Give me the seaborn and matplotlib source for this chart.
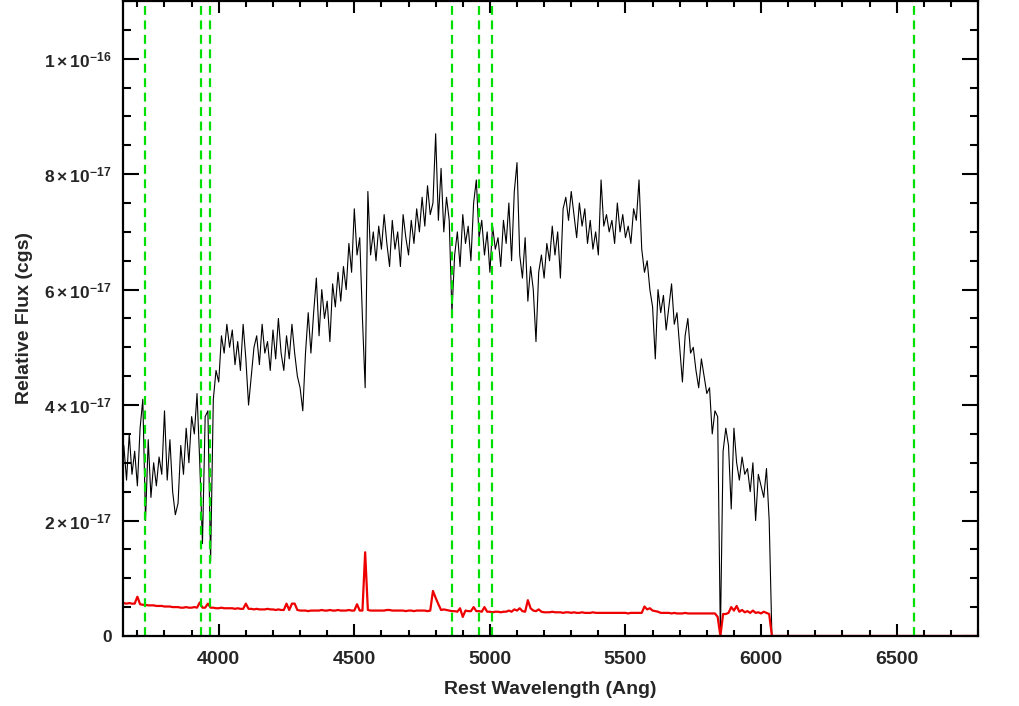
import numpy as np
import pandas as pd
import seaborn as sns
import matplotlib
matplotlib.use('Agg')
import matplotlib.pyplot as plt
from matplotlib.ticker import MultipleLocator, FixedLocator, FixedFormatter

# spectrum sampled every 10 Ang from 3650 to 6030, values in units of 1e-17 cgs
wave_start = 3650
wave_step = 10
flux_1e17 = [
    3.3, 2.7, 3.5, 2.8, 3.2, 2.6, 3.6, 4.1, 2.0, 3.4,
    2.4, 3.0, 2.6, 3.1, 2.8, 3.9, 2.7, 3.4, 2.5, 2.1,
    2.3, 3.3, 2.8, 3.6, 3.0, 3.8, 3.5, 4.2, 3.0, 1.6,
    3.8, 3.9, 1.3, 4.1, 4.6, 4.4, 5.2, 4.9, 5.4, 5.0,
    5.3, 4.7, 5.1, 4.6, 5.4, 4.8, 4.0, 4.5, 5.0, 5.2,
    4.7, 5.4, 4.9, 5.1, 4.6, 5.3, 4.8, 5.5, 4.9, 4.6,
    5.2, 4.8, 5.4, 4.9, 4.5, 4.3, 3.9, 4.9, 5.6, 4.9,
    5.6, 6.2, 5.2, 6.0, 5.5, 5.8, 5.1, 6.1, 5.7, 6.3,
    5.8, 6.4, 6.0, 6.8, 6.3, 7.4, 6.6, 6.9, 5.5, 4.3,
    7.7, 6.6, 7.0, 6.5, 7.1, 6.7, 7.3, 6.8, 6.4, 7.2,
    6.7, 7.0, 6.4, 7.3, 6.9, 6.6, 7.2, 6.8, 7.4, 7.0,
    7.6, 7.1, 7.8, 7.3, 7.5, 8.7, 7.2, 8.1, 7.0, 7.6,
    7.2, 5.6, 6.6, 7.0, 6.4, 7.3, 6.8, 7.1, 6.5, 7.5,
    7.9, 6.9, 7.2, 6.6, 7.0, 6.3, 7.1, 6.7, 6.9, 6.4,
    7.2, 6.8, 7.5, 6.5, 7.7, 8.2, 6.6, 6.2, 6.9, 5.8,
    6.4, 6.0, 5.1, 6.3, 6.6, 6.2, 6.8, 6.5, 7.1, 6.6,
    7.0, 6.2, 7.4, 7.6, 7.2, 7.7, 7.3, 6.9, 7.5, 7.1,
    7.4, 6.8, 7.2, 6.7, 7.0, 6.6, 7.9, 7.1, 7.3, 7.0,
    7.2, 6.8, 7.5, 7.0, 7.3, 6.9, 7.1, 6.8, 7.4, 7.2,
    7.9, 6.7, 6.3, 6.5, 6.0, 5.7, 4.8, 6.0, 5.6, 5.9,
    5.3, 5.7, 6.1, 5.4, 5.6, 5.0, 4.4, 5.2, 5.5, 4.9,
    5.0, 4.6, 4.3, 4.8, 4.5, 4.2, 4.3, 3.5, 3.9, 3.8,
    0.0, 3.2, 3.6, 3.3, 2.2, 3.6, 3.0, 2.7, 3.1, 2.8,
    2.9, 2.5, 3.0, 2.0, 2.8, 2.6, 2.4, 2.9, 2.0,
]
error_1e17 = [
    0.57, 0.56, 0.57, 0.56, 0.56, 0.68, 0.55, 0.54, 0.54, 0.53,
    0.53, 0.53, 0.52, 0.52, 0.52, 0.51, 0.51, 0.51, 0.50, 0.50,
    0.50, 0.49, 0.49, 0.50, 0.49, 0.49, 0.50, 0.49, 0.58, 0.49,
    0.49, 0.56, 0.49, 0.49, 0.48, 0.48, 0.49, 0.48, 0.48, 0.48,
    0.48, 0.47, 0.48, 0.47, 0.47, 0.56, 0.47, 0.47, 0.46, 0.47,
    0.46, 0.46, 0.46, 0.47, 0.46, 0.46, 0.45, 0.46, 0.45, 0.45,
    0.56, 0.45, 0.56, 0.56, 0.45, 0.44, 0.44, 0.44, 0.43, 0.44,
    0.44, 0.44, 0.44, 0.45, 0.44, 0.44, 0.45, 0.44, 0.44, 0.45,
    0.44, 0.44, 0.44, 0.45, 0.44, 0.44, 0.55, 0.44, 0.44, 1.45,
    0.45, 0.44, 0.44, 0.44, 0.44, 0.44, 0.44, 0.45, 0.45, 0.44,
    0.44, 0.44, 0.44, 0.44, 0.43, 0.44, 0.44, 0.43, 0.44, 0.44,
    0.44, 0.44, 0.43, 0.44, 0.78, 0.66, 0.55, 0.45, 0.46, 0.45,
    0.44, 0.43, 0.43, 0.42, 0.48, 0.33, 0.44, 0.43, 0.43, 0.50,
    0.43, 0.43, 0.42, 0.50, 0.42, 0.42, 0.41, 0.42, 0.42, 0.41,
    0.42, 0.42, 0.44, 0.42, 0.46, 0.44, 0.48, 0.43, 0.42, 0.62,
    0.48, 0.44, 0.43, 0.46, 0.42, 0.41, 0.41, 0.41, 0.42, 0.41,
    0.41, 0.41, 0.40, 0.41, 0.41, 0.40, 0.41, 0.40, 0.40, 0.41,
    0.40, 0.40, 0.40, 0.41, 0.40, 0.40, 0.40, 0.40, 0.40, 0.40,
    0.40, 0.40, 0.40, 0.40, 0.40, 0.40, 0.39, 0.40, 0.40, 0.40,
    0.40, 0.40, 0.51, 0.46, 0.48, 0.44, 0.43, 0.42, 0.40, 0.40,
    0.40, 0.40, 0.39, 0.40, 0.39, 0.39, 0.39, 0.40, 0.39, 0.39,
    0.39, 0.39, 0.39, 0.39, 0.39, 0.39, 0.39, 0.39, 0.39, 0.33,
    0.0, 0.38, 0.38, 0.40, 0.50, 0.44, 0.52, 0.42, 0.45, 0.41,
    0.43, 0.40, 0.44, 0.40, 0.41, 0.39, 0.42, 0.40, 0.38,
]
# no data past the red end: both arrays are zero there
tail_wave = [6040, 6800]
tail_flux = [0.0, 0.0]
tail_error = [0.0, 0.0]

# emission / absorption lines marked with green dashes
line_waves = [3727, 3933, 3968, 4861, 4959, 5007, 6563]

ytick_vals = [0, 2e-17, 4e-17, 6e-17, 8e-17, 1e-16]
ytick_labels = ['0', r'$2\times10^{-17}$', r'$4\times10^{-17}$',
                r'$6\times10^{-17}$', r'$8\times10^{-17}$', r'$1\times10^{-16}$']

sns.set_style('ticks')
plt.rcParams['font.family'] = ['Liberation Sans', 'DejaVu Sans']
plt.rcParams['font.weight'] = 'bold'
plt.rcParams['mathtext.fontset'] = 'custom'
plt.rcParams['mathtext.rm'] = 'Liberation Sans:bold'
plt.rcParams['mathtext.it'] = 'Liberation Sans:bold'
plt.rcParams['mathtext.bf'] = 'Liberation Sans:bold'

wave = wave_start + wave_step * np.arange(len(flux_1e17))
df = pd.DataFrame({
    'wave': np.concatenate([wave, tail_wave]),
    'flux': np.concatenate([flux_1e17, tail_flux]) * 1e-17,
    'error': np.concatenate([error_1e17, tail_error]) * 1e-17,
})

fig = plt.figure(figsize=(10.2, 7.06), dpi=100)
ax = fig.add_axes([0.1206, 0.0992, 0.8382, 0.8994])

sns.lineplot(data=df, x='wave', y='flux', ax=ax, color='black', lw=0.8,
             estimator=None, sort=False)
sns.lineplot(data=df, x='wave', y='error', ax=ax, color='#ee0000', lw=1.6,
             estimator=None, sort=False)
for lw_ in line_waves:
    ax.axvline(lw_, color='#00e000', lw=1.6, ls=(0, (4, 2.5)))

ax.set_xlim(3647, 6800)
ax.set_ylim(0, 1.1e-16)

ax.xaxis.set_major_locator(MultipleLocator(500))
ax.xaxis.set_minor_locator(MultipleLocator(100))
ax.yaxis.set_major_locator(FixedLocator(ytick_vals))
ax.yaxis.set_major_formatter(FixedFormatter(ytick_labels))
ax.yaxis.set_minor_locator(MultipleLocator(0.5e-17))

ax.tick_params(axis='both', which='both', direction='in', top=True, right=True,
               width=1.5, color='black')
ax.tick_params(axis='x', which='major', length=8.5, pad=11, labelsize=14)
ax.tick_params(axis='x', which='minor', length=4.3)
ax.tick_params(axis='y', which='major', length=11.5, pad=8, labelsize=12.5)
ax.tick_params(axis='y', which='minor', length=5.8)
for s in ax.spines.values():
    s.set_linewidth(1.6)
    s.set_color('black')

ax.set_xlabel('Rest Wavelength (Ang)', fontsize=14, fontweight='bold', labelpad=9)
ax.set_ylabel('Relative Flux (cgs)', fontsize=14, fontweight='bold', labelpad=8)

fig.savefig('out.png', dpi=100)
